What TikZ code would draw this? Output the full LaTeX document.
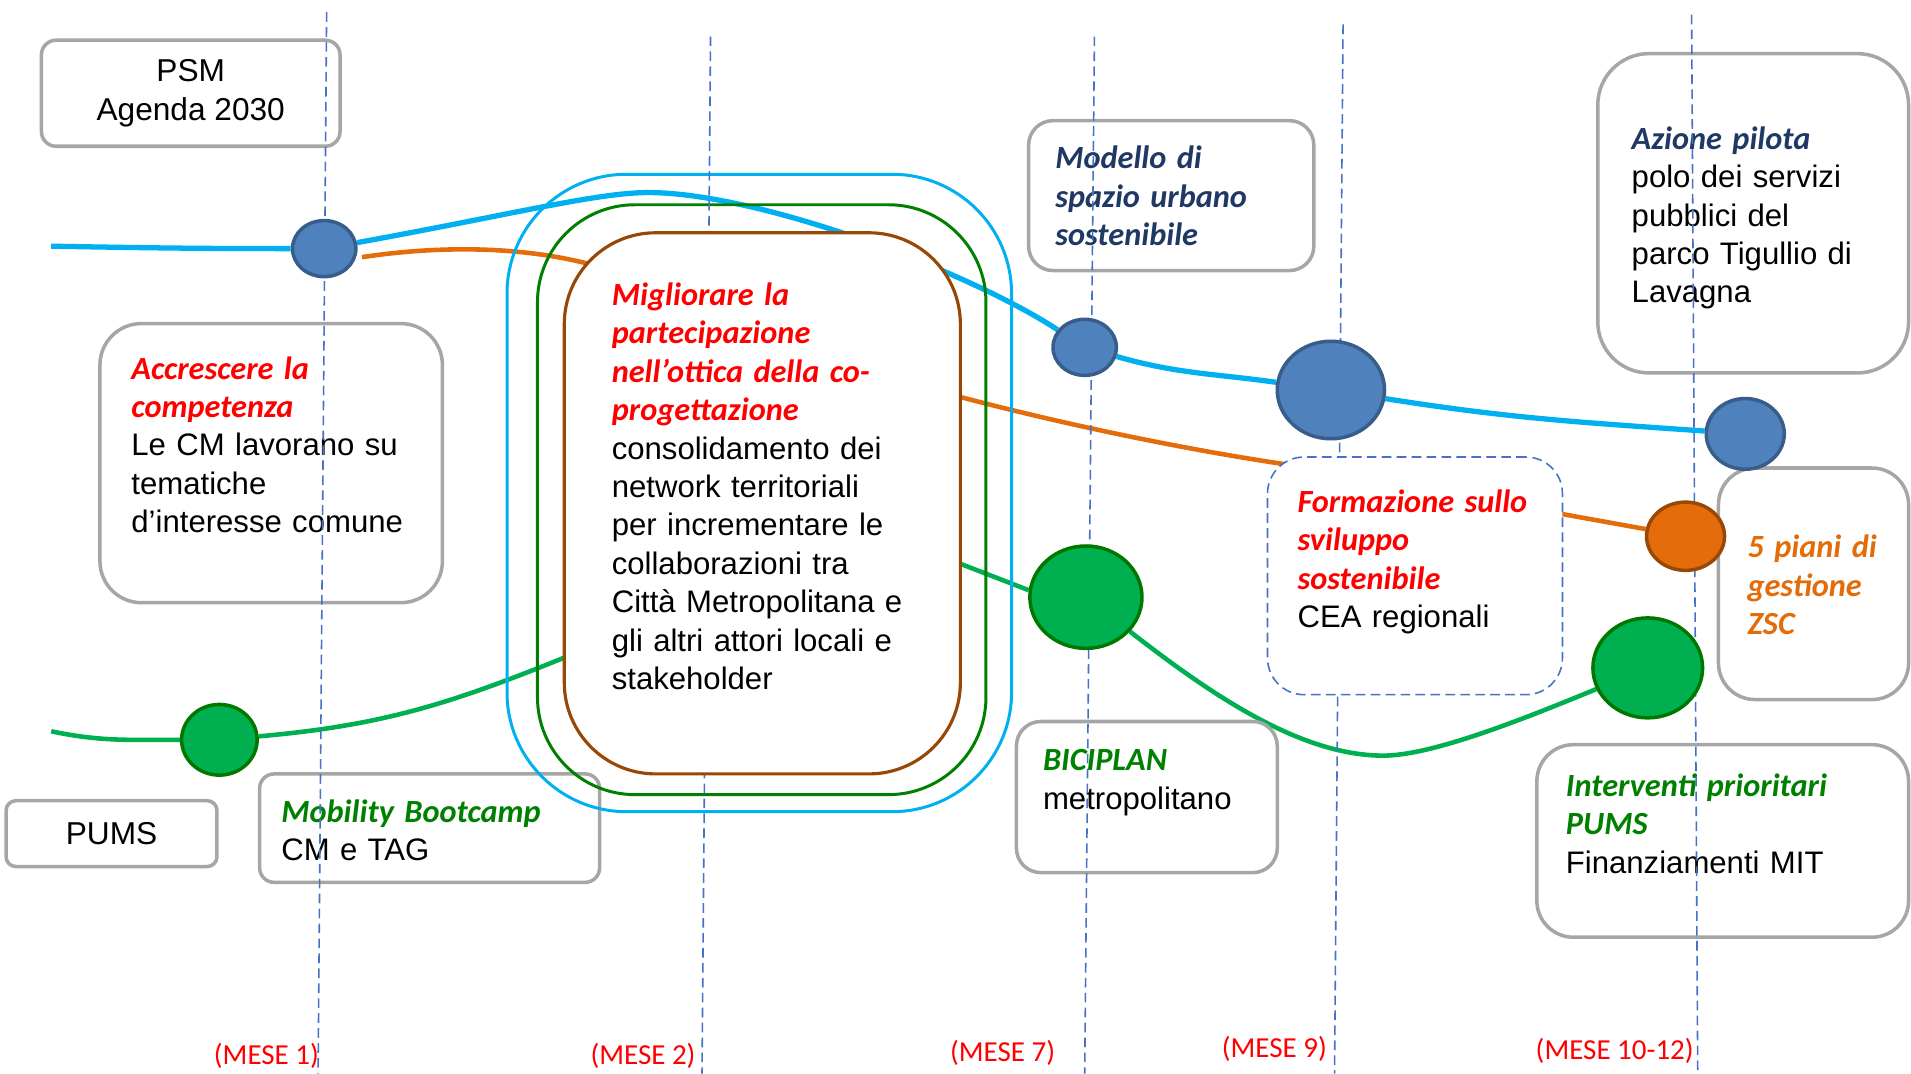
\documentclass[tikz,border=0pt]{standalone}
\usepackage{fontspec}
\setmainfont{Liberation Sans}
\newfontfamily\calibri{Carlito}
\usetikzlibrary{shapes.geometric,positioning}

\definecolor{lineblue}{RGB}{0,176,240}
\definecolor{linegreen}{RGB}{0,176,80}
\definecolor{lineorange}{RGB}{228,108,10}
\definecolor{dotblue}{RGB}{79,129,189}
\definecolor{dotblueedge}{RGB}{56,93,138}
\definecolor{dotorange}{RGB}{228,108,10}
\definecolor{dotorangeedge}{RGB}{152,72,7}
\definecolor{dotgreen}{RGB}{0,176,80}
\definecolor{dotgreenedge}{RGB}{0,120,0}
\definecolor{rectgreen}{RGB}{0,128,0}
\definecolor{rectbrown}{RGB}{152,72,6}
\definecolor{boxgrey}{RGB}{166,166,166}
\definecolor{dashblue}{RGB}{68,114,196}
\definecolor{titred}{RGB}{255,0,0}
\definecolor{titnavy}{RGB}{31,56,100}
\definecolor{titgreen}{RGB}{0,128,0}
\definecolor{titorange}{RGB}{227,108,9}

\newlength{\px}
\setlength{\px}{0.024375cm}

\pgfdeclarelayer{back}
\pgfdeclarelayer{front}
\pgfsetlayers{back,main,front}

\newcommand{\titolo}[2]{{\calibri\fontsize{18.4}{21.85}\selectfont\bfseries\itshape\color{#1}#2}}

\begin{document}
\begin{tikzpicture}[x=0.024375cm, y=-0.024375cm,
    grey box/.style={draw=boxgrey, line width=2pt, inner sep=0pt},
    text block/.style={anchor=base west, align=left, text width=7cm, inner sep=0pt, font=\fontsize{17.7}{21.85}\selectfont},
    blue dot/.style={ellipse, draw=dotblueedge, fill=dotblue, line width=2pt, inner sep=0pt},
    orange dot/.style={ellipse, draw=dotorangeedge, fill=dotorange, line width=2pt, inner sep=0pt},
    green dot/.style={ellipse, draw=dotgreenedge, fill=dotgreen, line width=2pt, inner sep=0pt},
    blue line/.style={draw=lineblue, line width=3pt},
    orange line/.style={draw=lineorange, line width=2.6pt},
    green line/.style={draw=linegreen, line width=2.6pt},
    time line/.style={draw=dashblue, line width=0.9pt, dash pattern=on 5.5pt off 3pt},
    mese/.style={anchor=east, inner sep=0pt, text=titred, font=\calibri\fontsize{16.5}{20}\selectfont}]

    \useasboundingbox (0,0) rectangle (1568,881);

    \node[grey box, minimum width=245\px, minimum height=87\px, rounded corners=12\px, align=center, font=\fontsize{18}{21.8}\selectfont] (psm) at (156.5,76.5) {PSM\\Agenda 2030};

    \node[grey box, minimum width=281\px, minimum height=229\px, rounded corners=34\px] (acc) at (222.5,380) {};
    \node[text block] (acctext) at ([shift={(27,47)}]acc.north west) {\titolo{titred}{Accrescere la}\\ \titolo{titred}{competenza}\\ Le CM lavorano su\\ tematiche\\ d’interesse comune};

    \node[grey box, minimum width=234\px, minimum height=123\px, rounded corners=20\px] (mod) at (961,160.5) {};
    \node[text block] (modtext) at ([shift={(23,41)}]mod.north west) {\titolo{titnavy}{Modello di}\\ \titolo{titnavy}{spazio urbano}\\ \titolo{titnavy}{sostenibile}};

    \node[grey box, minimum width=255\px, minimum height=262\px, rounded corners=42\px] (azi) at (1438.5,175) {};
    \node[text block] (azitext) at ([shift={(29,80)}]azi.north west) {\titolo{titnavy}{Azione pilota}\\ polo dei servizi\\ pubblici del\\ parco Tigullio di\\ Lavagna};

    \node[grey box, minimum width=156\px, minimum height=190\px, rounded corners=30\px] (zsc) at (1488,479) {};
    \node[text block] (zsctext) at ([shift={(25,75)}]zsc.north west) {\titolo{titorange}{5 piani di}\\ \titolo{titorange}{gestione}\\ \titolo{titorange}{ZSC}};

    \node[grey box, minimum width=214\px, minimum height=124\px, rounded corners=20\px] (bic) at (941,654) {};
    \node[text block] (bictext) at ([shift={(23,42)}]bic.north west) {\titolo{titgreen}{BICIPLAN}\\ metropolitano};

    \node[grey box, minimum width=305\px, minimum height=158\px, rounded corners=30\px] (int) at (1413.5,690) {};
    \node[text block] (inttext) at ([shift={(25,44)}]int.north west) {\titolo{titgreen}{Interventi prioritari}\\ \titolo{titgreen}{PUMS}\\ Finanziamenti MIT};

    \node[grey box, minimum width=173\px, minimum height=54\px, rounded corners=8\px, font=\fontsize{18}{21.5}\selectfont] (pums) at (91.5,684) {PUMS};

    \node[grey box, minimum width=279\px, minimum height=89\px, rounded corners=12\px] (mob) at (352.5,679.5) {};
    \node[text block] (mobtext) at ([shift={(19,41)}]mob.north west) {\titolo{titgreen}{Mobility Bootcamp}\\ CM e TAG};

    \node[draw=lineblue, line width=1.7pt, minimum width=414\px, minimum height=523\px, rounded corners=98\px] (cblue) at (623,404.5) {};
    \node[draw=rectgreen, line width=1.7pt, minimum width=368\px, minimum height=484\px, rounded corners=80\px] (cgreen) at (625,410) {};

    \begin{pgfonlayer}{front}
        \node[draw=rectbrown, fill=white, line width=1.8pt, minimum width=325\px, minimum height=444\px, rounded corners=75\px] (core) at (625.5,413) {};
        \node[text block] (coretext) at ([shift={(40,61)}]core.north west) {\titolo{titred}{Migliorare la}\\ \titolo{titred}{partecipazione}\\ \titolo{titred}{nell’ottica della co-}\\ \titolo{titred}{progettazione}\\ consolidamento dei\\ network territoriali\\ per incrementare le\\ collaborazioni tra\\ Città Metropolitana e\\ gli altri attori locali e\\ stakeholder};

        \node[draw=dashblue, fill=white, line width=0.9pt, dash pattern=on 5.5pt off 3pt, minimum width=242\px, minimum height=195\px, rounded corners=30\px] (form) at (1161,472.5) {};
        \node[text block] (formtext) at ([shift={(25,46)}]form.north west) {\titolo{titred}{Formazione sullo}\\ \titolo{titred}{sviluppo}\\ \titolo{titred}{sostenibile}\\ CEA regionali};

        \node[blue dot, minimum width=52\px, minimum height=46\px] (b1) at (266,204) {};
        \node[blue dot, minimum width=52\px, minimum height=46\px] (b2) at (890,285) {};
        \node[blue dot, minimum width=88\px, minimum height=80\px] (b3) at (1092,320) {};
        \node[blue dot, minimum width=64\px, minimum height=58\px] (b4) at (1432,356) {};
        \node[orange dot, minimum width=64\px, minimum height=56\px] (o1) at (1383,440) {};
        \node[green dot, minimum width=62\px, minimum height=58\px] (g1) at (180,607) {};
        \node[green dot, minimum width=92\px, minimum height=84\px] (g2) at (891,490) {};
        \node[green dot, minimum width=90\px, minimum height=82\px] (g3) at (1352,548) {};
    \end{pgfonlayer}

    \coordinate (bstart) at (42,202);
    \coordinate (ostart) at (297,211);
    \coordinate (gstart) at (42,600);

    \begin{pgfonlayer}{back}
        \draw[blue line] (bstart) to[out=-1,in=180] (b1)
            .. controls (420,176) and (490,158) .. (532,158)
            .. controls (620,158) and (790,220) .. (b2)
            to[out=-16,in=172] (b3)
            to[out=-9,in=176] (b4);
        \draw[orange line] (ostart) .. controls (350,203) and (420,200) .. (485,217)
            -- (789,326) .. controls (880,350) and (980,370) .. (1055,381)
            -- (o1);
        \draw[green line] (gstart) to[out=-12,in=180] (g1)
            to[out=5,in=-158] (462,540) -- (789,463) -- (g2.173);
        \draw[green line] (g2) .. controls (1000,575) and (1070,620) .. (1135,620)
            .. controls (1175,620) and (1250,590) .. (g3);
    \end{pgfonlayer}

    \draw[time line] (268,10) -- (261,881);
    \draw[time line] (583,30) -- (576,881);
    \draw[time line] (898,30) -- (890,881);
    \draw[time line] (1102,20) -- (1095,881);
    \draw[time line] (1388,12) -- (1393,881);

    \node[mese] (m1) at (262,866) {(MESE 1)};
    \node[mese] (m2) at (571,866) {(MESE 2)};
    \node[mese] (m3) at (866,864) {(MESE 7)};
    \node[mese] (m4) at (1089,861) {(MESE 9)};
    \node[mese] (m5) at (1390,862) {(MESE 10-12)};
\end{tikzpicture}
\end{document}
